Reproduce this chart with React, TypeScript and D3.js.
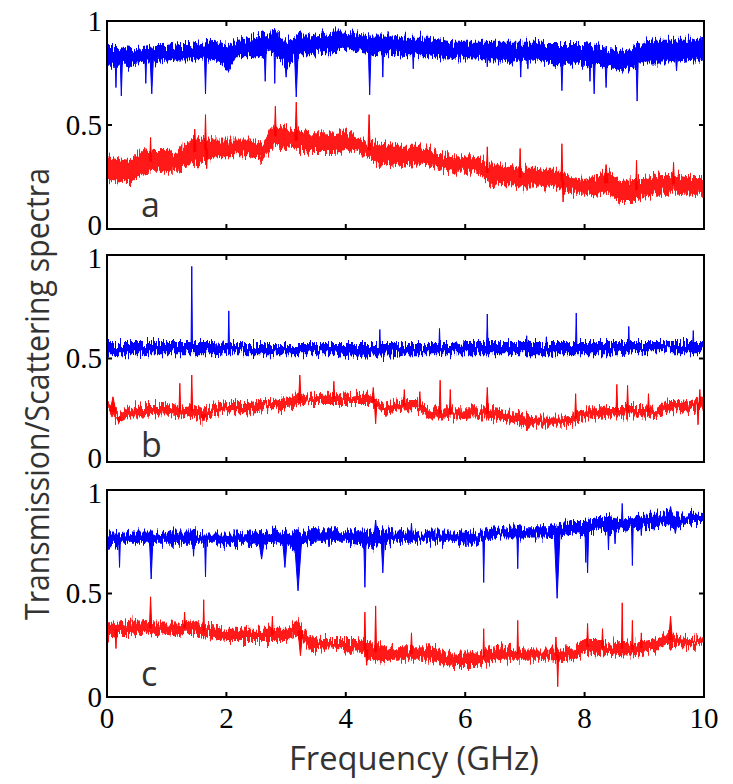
import React from "react";
import * as d3 from "d3";

// envelope samples every 0.2 GHz from 0 to 10 GHz, in hundredths
const sampleStep = 0.2;

// panel a
const aTransLo = [
  79, 79, 79, 80, 80, 81, 81, 81, 82, 81,
  77, 83, 83, 83, 85, 78, 84, 84, 85, 85,
  86, 85, 84, 84, 84, 83, 83, 83, 82, 82,
  82, 82, 81, 81, 80, 81, 81, 80, 79, 79,
  79, 78, 77, 76, 77, 80, 80, 80, 80, 81,
  81,
];
const aTransHi = [
  87, 87, 86, 87, 88, 88, 89, 89, 90, 91,
  88, 91, 92, 93, 95, 90, 93, 93, 94, 95,
  95, 94, 93, 93, 93, 92, 92, 92, 91, 90,
  90, 90, 90, 90, 90, 90, 90, 89, 89, 89,
  89, 88, 87, 86, 87, 90, 91, 91, 91, 91,
  92,
];
const aScatLo = [
  23, 23, 22, 27, 28, 28, 28, 31, 32, 35,
  35, 35, 35, 33, 40, 39, 38, 37, 37, 37,
  38, 36, 34, 30, 31, 30, 31, 30, 28, 27,
  27, 27, 22, 21, 21, 20, 20, 20, 19, 17,
  17, 16, 17, 13, 13, 15, 17, 17, 17, 17,
  17,
];
const aScatHi = [
  35, 34, 33, 38, 37, 37, 38, 43, 44, 43,
  43, 43, 43, 41, 50, 49, 47, 46, 46, 46,
  47, 44, 42, 41, 40, 40, 40, 39, 36, 35,
  35, 35, 31, 31, 30, 29, 29, 28, 28, 25,
  24, 26, 28, 23, 24, 24, 26, 27, 26, 25,
  25,
];
// sharp resonances: [GHz, value (hundredths), half width GHz]
const aTransLines = [
  [0.15, 68, 0.015], [0.24, 64, 0.02], [0.65, 70, 0.015], [0.75, 65, 0.03],
  [1.65, 65, 0.02], [2.65, 71, 0.02], [2.81, 70, 0.015], [3.0, 73, 0.03],
  [3.17, 63.5, 0.035], [4.4, 64.5, 0.025], [4.62, 73, 0.015], [5.13, 77, 0.015],
  [6.37, 78, 0.015], [6.93, 73, 0.015], [7.05, 77, 0.015], [7.62, 66.5, 0.02],
  [8.09, 71, 0.015], [8.16, 65, 0.02], [8.36, 68, 0.02], [8.88, 61.5, 0.02],
  [9.54, 76, 0.025],
];
const aScatLines = [
  [0.73, 44, 0.015], [1.47, 48, 0.02], [1.65, 55, 0.015], [1.67, 29, 0.015],
  [2.82, 59, 0.015], [3.17, 61, 0.02], [4.39, 55, 0.02], [6.37, 39.5, 0.015],
  [6.92, 38.7, 0.015], [7.62, 41, 0.015], [7.64, 13, 0.015], [8.36, 31, 0.03],
  [8.87, 33, 0.015], [9.49, 32, 0.015],
];

// panel b
const bTransLo = [
  52, 52, 52, 52, 52, 52, 52, 52, 52, 52,
  52, 52, 52, 52, 52, 52, 52, 52, 52, 52,
  51, 51, 51, 51, 51, 52, 52, 52, 52, 52,
  52, 52, 52, 52, 52, 52, 52, 52, 52, 52,
  52, 52, 52, 52, 53, 53, 53, 53, 53, 53,
  53,
];
const bTransHi = [
  58, 58, 58, 58, 58, 58, 58, 58, 58, 58,
  57, 57, 57, 57, 57, 57, 57, 57, 57, 57,
  57, 57, 57, 57, 57, 57, 57, 57, 57, 57,
  58, 58, 58, 58, 58, 58, 58, 58, 58, 58,
  58, 58, 58, 58, 58, 58, 58, 58, 58, 58,
  58,
];
const bScatLo = [
  25, 19, 22, 22, 23, 23, 22, 22, 20, 23,
  24, 24, 24, 25, 25, 26, 27, 28, 28, 28,
  28, 28, 28, 23, 24, 25, 25, 21, 21, 21,
  21, 21, 21, 20, 19, 17, 17, 17, 17, 18,
  21, 21, 22, 22, 22, 22, 21, 25, 25, 24,
  25,
];
const bScatHi = [
  29, 24, 27, 28, 28, 28, 27, 28, 25, 28,
  29, 29, 29, 30, 30, 31, 33, 32, 33, 33,
  32, 33, 33, 28, 29, 30, 30, 26, 26, 26,
  26, 26, 26, 25, 24, 23, 22, 22, 22, 23,
  26, 26, 27, 27, 27, 27, 26, 30, 30, 29,
  33,
];
const bTransLines = [
  [1.42, 94.5, 0.012], [2.04, 73, 0.012], [4.57, 64, 0.012], [5.57, 64.5, 0.012],
  [6.37, 71.5, 0.012], [7.03, 61, 0.012], [7.36, 60.5, 0.012], [7.86, 72, 0.012],
  [8.74, 65.5, 0.012], [9.82, 63.5, 0.012],
];
const bScatLines = [
  [0.1, 31.5, 0.05], [0.2, 19, 0.04], [1.22, 38, 0.015], [1.42, 42, 0.015],
  [1.62, 20, 0.04], [3.23, 42, 0.02], [3.8, 39, 0.015], [4.46, 36, 0.02],
  [4.5, 18.5, 0.02], [4.98, 35, 0.015], [5.24, 34, 0.015], [5.58, 39.5, 0.015],
  [5.75, 35, 0.015], [6.37, 36, 0.02], [7.85, 33, 0.015], [8.54, 37.5, 0.015],
  [8.72, 37, 0.015], [9.07, 33, 0.015], [9.9, 18, 0.015], [9.93, 35, 0.015],
];

// panel c
const cTransLo = [
  73, 74, 74, 74, 74, 74, 74, 74, 74, 74,
  73, 74, 74, 73, 75, 73, 72, 75, 75, 75,
  75, 74, 73, 74, 75, 75, 75, 75, 75, 75,
  74, 74, 76, 77, 77, 77, 77, 77, 78, 79,
  78, 81, 79, 80, 81, 82, 82, 83, 82, 84,
  84,
];
const cTransHi = [
  79, 79, 80, 80, 80, 80, 80, 80, 79, 79,
  79, 79, 80, 79, 81, 80, 79, 81, 81, 81,
  81, 80, 80, 81, 80, 80, 80, 80, 80, 80,
  80, 79, 81, 82, 83, 82, 82, 82, 84, 85,
  85, 87, 87, 86, 87, 88, 88, 89, 88, 89,
  89,
];
const cScatLo = [
  28, 30, 30, 31, 30, 31, 30, 31, 29, 28,
  27, 27, 27, 27, 27, 27, 30, 22, 23, 23,
  22, 22, 18, 17, 18, 18, 18, 18, 16, 15,
  15, 15, 17, 18, 18, 18, 18, 18, 17, 18,
  21, 20, 21, 20, 20, 21, 22, 25, 24, 24,
  25,
];
const cScatHi = [
  35, 36, 37, 37, 36, 36, 36, 37, 35, 34,
  33, 33, 33, 33, 33, 33, 37, 29, 28, 28,
  28, 28, 26, 26, 24, 24, 24, 24, 22, 21,
  21, 21, 24, 25, 24, 23, 23, 23, 23, 24,
  28, 28, 26, 27, 26, 27, 28, 31, 29, 28,
  29,
];
const cTransLines = [
  [0.21, 62.6, 0.015], [0.74, 57, 0.03], [1.45, 68, 0.015], [1.65, 58, 0.015],
  [2.59, 66.6, 0.05], [2.98, 62.6, 0.04], [3.2, 51.3, 0.06], [4.32, 53, 0.02],
  [4.5, 85.5, 0.03], [4.62, 60, 0.03], [5.1, 84, 0.015], [6.31, 55.3, 0.015],
  [6.88, 62, 0.015], [7.54, 47.7, 0.05], [8.02, 65, 0.015], [8.05, 60, 0.02],
  [8.4, 71, 0.015], [8.51, 74, 0.02], [8.63, 93.5, 0.015], [8.8, 63.5, 0.015],
  [8.95, 78, 0.015], [9.44, 92, 0.04], [9.52, 79, 0.04],
];
const cScatLines = [
  [0.15, 23.4, 0.015], [0.73, 48.4, 0.02], [1.3, 41, 0.015], [1.62, 47, 0.012],
  [2.77, 39, 0.015], [3.24, 20, 0.04], [4.32, 41, 0.015], [4.35, 15.3, 0.02],
  [4.5, 44, 0.015], [5.1, 31, 0.015], [6.31, 33, 0.012], [6.88, 37, 0.012],
  [7.52, 29, 0.015], [7.55, 5, 0.015], [8.05, 35.5, 0.015], [8.3, 33, 0.015],
  [8.63, 45.5, 0.012], [8.8, 37, 0.012], [8.95, 31, 0.012], [9.44, 39, 0.03],
];

const panelLetters = ["a", "b", "c"];
const xTicks = [0, 2, 4, 6, 8, 10];
const yTicks = [0, 0.5, 1];
const yTickLabels = ["0", "0.5", "1"];

const BLUE = "#0000ff";
const RED = "#ff0000";

const panels = [
  { trans: [aTransLo, aTransHi, aTransLines], scat: [aScatLo, aScatHi, aScatLines] },
  { trans: [bTransLo, bTransHi, bTransLines], scat: [bScatLo, bScatHi, bScatLines] },
  { trans: [cTransLo, cTransHi, cTransLines], scat: [cScatLo, cScatHi, cScatLines] },
];

const boxes = [
  { top: 21, bottom: 229, letterY: 217 },
  { top: 255, bottom: 462, letterY: 457 },
  { top: 490, bottom: 697, letterY: 686 },
];

const left = 107;
const right = 704;

const x = d3.scaleLinear().domain([0, 10]).range([left, right]);

const Trace = ({ lo, hi, lines, y, color, opacity, clipId }) => {
  const freqs = lo.map((_, i) => i * sampleStep);
  const band = d3
    .area<number>()
    .x((_, i) => x(freqs[i]))
    .y0((_, i) => y(lo[i] / 100))
    .y1((d) => y(d / 100));
  // band centre at any frequency, used as the foot of each resonance line
  const mid = (f: number) => {
    const i = Math.min(Math.floor(f / sampleStep), lo.length - 2);
    const t = f / sampleStep - i;
    const m0 = (lo[i] + hi[i]) / 2;
    const m1 = (lo[i + 1] + hi[i + 1]) / 2;
    return (m0 + (m1 - m0) * t) / 100;
  };
  return (
    <g clipPath={`url(#${clipId})`}>
      <path
        d={band(hi) || ""}
        fill={color}
        fillOpacity={opacity}
        filter="url(#grain)"
      />
      {lines.map(([f, v, w], i) => {
        const base = y(mid(f));
        return (
          <path
            key={i}
            d={`M${x(f - w)},${base}L${x(f)},${y(v / 100)}L${x(f + w)},${base}Z`}
            fill={color}
            stroke={color}
            strokeWidth={1}
            strokeLinejoin="round"
          />
        );
      })}
    </g>
  );
};

// the stacked boxes sit close together, so the "0" of one box and the "1" of
// the next are pushed slightly apart
const labelNudge = (panel: number, t: number) => {
  if (t === 0 && panel < 2) return -3.5;
  if (t === 1 && panel > 0) return 3.5;
  return 0;
};

export default function App() {
  return (
    <svg
      width={733}
      height={784}
      style={{ position: "absolute", left: 0, top: 0, background: "#fff" }}
    >
      <defs>
        <filter
          id="grain"
          x="-2%"
          y="-40%"
          width="104%"
          height="180%"
          colorInterpolationFilters="sRGB"
        >
          <feTurbulence
            type="fractalNoise"
            baseFrequency="0.6 0.05"
            numOctaves={2}
            seed={7}
            result="noise"
          />
          <feColorMatrix
            in="noise"
            type="matrix"
            values="1 0 0 0 0  0 0 0 0 0.5  0 0 0 0 0  0 0 0 0 1"
            result="map"
          />
          <feDisplacementMap
            in="SourceGraphic"
            in2="map"
            scale={20}
            xChannelSelector="G"
            yChannelSelector="R"
          />
        </filter>
        {boxes.map((b, i) => (
          <clipPath id={`clip${i}`} key={i}>
            <rect x={left} y={b.top} width={right - left} height={b.bottom - b.top} />
          </clipPath>
        ))}
      </defs>

      {panels.map((p, i) => {
        const b = boxes[i];
        const y = d3.scaleLinear().domain([0, 1]).range([b.bottom, b.top]);
        return (
          <g key={i}>
            <Trace
              lo={p.trans[0]}
              hi={p.trans[1]}
              lines={p.trans[2]}
              y={y}
              color={BLUE}
              opacity={1}
              clipId={`clip${i}`}
            />
            <Trace
              lo={p.scat[0]}
              hi={p.scat[1]}
              lines={p.scat[2]}
              y={y}
              color={RED}
              opacity={0.9}
              clipId={`clip${i}`}
            />
            <text
              x={141}
              y={b.letterY}
              fontFamily="'Open Sans', sans-serif"
              fontSize={34}
              fill="#333"
            >
              {panelLetters[i]}
            </text>
            {/* box and inward ticks */}
            <rect
              x={left}
              y={b.top}
              width={right - left}
              height={b.bottom - b.top}
              fill="none"
              stroke="#000"
              strokeWidth={2}
            />
            {xTicks.map((t) => (
              <g key={t}>
                <line x1={x(t)} x2={x(t)} y1={b.bottom} y2={b.bottom - 5} stroke="#000" strokeWidth={2} />
                <line x1={x(t)} x2={x(t)} y1={b.top} y2={b.top + 5} stroke="#000" strokeWidth={2} />
              </g>
            ))}
            {yTicks.map((t, k) => (
              <g key={t}>
                <line x1={left} x2={left + 5} y1={y(t)} y2={y(t)} stroke="#000" strokeWidth={2} />
                <line x1={right} x2={right - 5} y1={y(t)} y2={y(t)} stroke="#000" strokeWidth={2} />
                <text
                  x={102}
                  y={y(t) + labelNudge(i, t)}
                  dy="0.33em"
                  textAnchor="end"
                  fontFamily="'Liberation Serif', serif"
                  fontSize={29}
                  fill="#000"
                >
                  {yTickLabels[k]}
                </text>
              </g>
            ))}
          </g>
        );
      })}

      {xTicks.map((t) => (
        <text
          key={t}
          x={x(t)}
          y={728}
          textAnchor="middle"
          fontFamily="'Liberation Serif', serif"
          fontSize={29}
          fill="#000"
        >
          {t}
        </text>
      ))}
      <text
        x={414}
        y={770}
        textAnchor="middle"
        fontFamily="'Open Sans', sans-serif"
        fontSize={32}
        fill="#333"
        textLength={250}
        lengthAdjust="spacingAndGlyphs"
      >
        Frequency (GHz)
      </text>
      <text
        transform="translate(49,394) rotate(-90)"
        textAnchor="middle"
        fontFamily="'Open Sans', sans-serif"
        fontSize={32}
        fill="#333"
        textLength={452}
        lengthAdjust="spacingAndGlyphs"
      >
        Transmission/Scattering spectra
      </text>
    </svg>
  );
}
